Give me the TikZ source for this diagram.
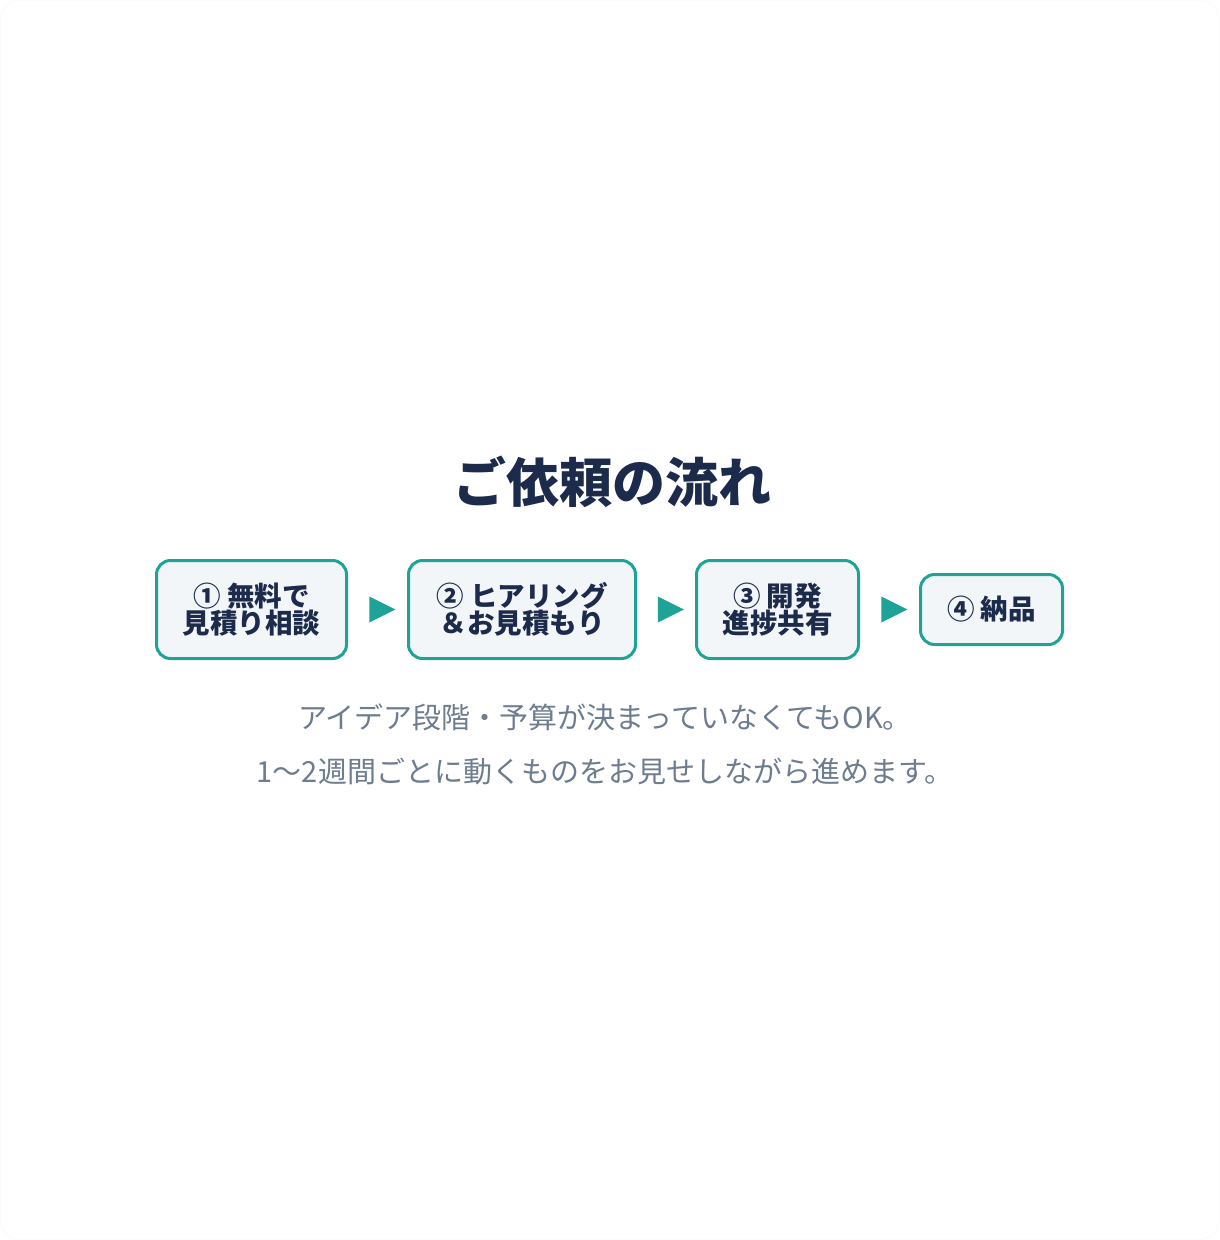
\documentclass[tikz,border=0pt]{standalone}
\usepackage{fontspec}
\setmainfont{Noto Sans CJK JP}
\usetikzlibrary{shapes.geometric,calc}
\definecolor{navy}{HTML}{1C2B4B}
\definecolor{flowteal}{HTML}{1FA396}
\definecolor{boxfill}{HTML}{F3F6F9}
\definecolor{subgray}{HTML}{6E7C90}

\begin{document}
\begin{tikzpicture}[x=1pt,y=-1pt,
  stepbox/.style={draw=flowteal,line width=3pt,fill=boxfill,rounded corners=14pt,
    align=center,inner sep=0pt,text=navy,font=\bfseries\fontsize{27.5}{27}\selectfont},
  flowarrow/.style={isosceles triangle,isosceles triangle stretches,fill=flowteal,
    minimum width=26pt,minimum height=26pt,inner sep=0pt}]
% Card outline
\useasboundingbox (0,0) rectangle (1220,1240);
\draw[gray!6,fill=white,rounded corners=20pt] (0.5,0.5) rectangle (1219.5,1239.5);

% Title
\node[text=navy,font=\bfseries\fontsize{53}{53}\selectfont] (title) at (612,482) {ご依頼の流れ};

% Steps
\node[stepbox,minimum width=190pt,minimum height=98pt] (consult) at (251.5,609.5) {① 無料で\\見積り相談};
\node[stepbox,minimum width=227pt,minimum height=98pt] (hearing) at (522,609.5) {② ヒアリング\\＆お見積もり};
\node[stepbox,minimum width=162pt,minimum height=98pt] (develop) at (777.5,609.5) {③ 開発\\進捗共有};
\node[stepbox,minimum width=142pt,minimum height=70pt] (deliver) at (991.5,609.5) {④ 納品};

% Arrows between steps
\foreach \a/\b/\n in {consult/hearing/arrA, hearing/develop/arrB, develop/deliver/arrC} {
    \node[flowarrow] (\n) at ($(\a.east)!0.5!(\b.west)$) {};
}

% Note
\node[text=subgray,align=center,font=\fontsize{29}{54}\selectfont] (note) at (605,744)
  {アイデア段階・予算が決まっていなくてもOK。\\1～2週間ごとに動くものをお見せしながら進めます。};
\end{tikzpicture}
\end{document}
